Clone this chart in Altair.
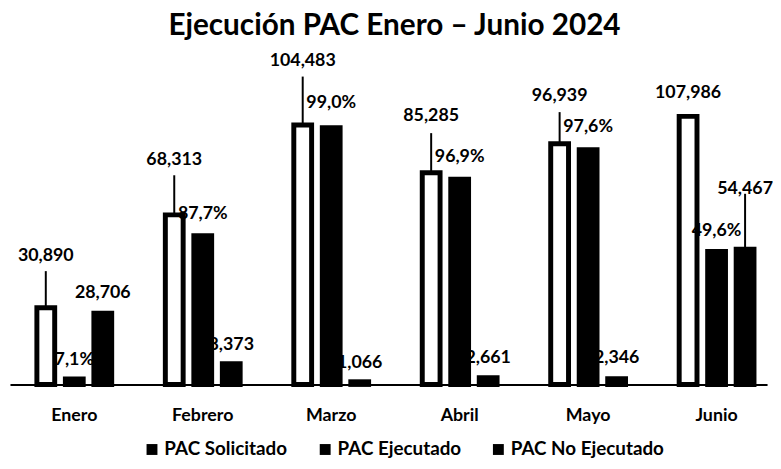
import altair as alt
import pandas as pd

# ---- data ----
meses = ["Enero", "Febrero", "Marzo", "Abril", "Mayo", "Junio"]
series = ["PAC Solicitado", "PAC Ejecutado", "PAC No Ejecutado"]
solicitado = [30890, 68313, 104483, 85285, 96939, 107986]
ejecutado = [2184, 59940, 103417, 82624, 94593, 53519]
no_ejecutado = [28706, 8373, 1066, 2661, 2346, 54467]
pct_ejecutado = [7.1, 87.7, 99.0, 96.9, 97.6, 49.6]

# ---- label layout (pixel gaps above each bar, leader-line lengths) ----
gap_sol = [52, 55, 65, 57, 48, 24]
gap_eje = [19, 22, 25, 23, 23, 21]
gap_noe = [20, 19, 19, 20, 21, 61]
guia_sol = [37, 40, 49, 40, 32, 0]
guia_eje = [0, 0, 0, 0, 0, 0]
guia_noe = [0, 0, 0, 0, 0, 56]

W, H = 765, 301
YMAX = 120000
PX = YMAX / H  # data units per pixel

lab_sol = [f"{v:,}" for v in solicitado]
lab_eje = [f"{p:.1f}%".replace(".", ",") for p in pct_ejecutado]
lab_noe = [f"{v:,}" for v in no_ejecutado]

rows = []
for i, m in enumerate(meses):
    for s, vals, labs, gaps, guias in [
        (series[0], solicitado, lab_sol, gap_sol, guia_sol),
        (series[1], ejecutado, lab_eje, gap_eje, guia_eje),
        (series[2], no_ejecutado, lab_noe, gap_noe, guia_noe),
    ]:
        rows.append(dict(mes=m, serie=s, valor=vals[i], etiqueta=labs[i],
                         gap=gaps[i], guia=guias[i]))
df = pd.DataFrame(rows)

FONT = "Lato"

x_enc = alt.X("mes:N", sort=meses, title=None,
              scale=alt.Scale(domain=meses, paddingInner=0.4176,
                              paddingOuter=0.1556, align=0.673),
              axis=alt.Axis(labelFont=FONT, labelFontSize=18, labelFontWeight="bold",
                            labelColor="black", ticks=False, labelPadding=22,
                            domainColor="black", domainWidth=2, labelAngle=0))
xo_enc = alt.XOffset("serie:N", sort=series,
                     scale=alt.Scale(domain=series, paddingInner=0.375, paddingOuter=0))
y_scale = alt.Scale(domain=[0, YMAX], nice=False)
y_enc = alt.Y("valor:Q", scale=y_scale, axis=None)

base = alt.Chart(df)

# outlined (white) bars for PAC Solicitado, solid black bars for the rest
bars_sol = base.transform_filter(alt.datum.serie == series[0]).mark_bar(
    fill="white", stroke="black", strokeWidth=5
).encode(x=x_enc, xOffset=xo_enc, y=y_enc)

bars_otros = base.transform_filter(alt.datum.serie != series[0]).mark_bar(
    fill="black", stroke="black", strokeWidth=5
).encode(x=x_enc, xOffset=xo_enc, y=y_enc)

# legend-only layer (no rows drawn): all legend swatches are solid black squares
leyenda = base.transform_filter("false").mark_square(filled=True, opacity=1).encode(
    color=alt.Color("serie:N", sort=series,
                    scale=alt.Scale(domain=series, range=["black", "black", "black"]),
                    legend=alt.Legend(orient="none", legendX=134, legendY=357,
                                      direction="horizontal", title=None,
                                      symbolType="square", symbolSize=121,
                                      symbolOpacity=1, symbolStrokeWidth=0,
                                      labelFont=FONT, labelFontSize=19,
                                      labelFontWeight="bold", labelColor="black",
                                      columnPadding=28, labelOffset=3)),
)

guias = base.transform_filter("datum.guia > 0").transform_calculate(
    tope=f"datum.valor + datum.guia * {PX}"
).mark_rule(color="black", strokeWidth=2).encode(
    x=x_enc, xOffset=xo_enc, y=y_enc, y2="tope:Q",
)

textos = base.transform_calculate(
    pos=f"datum.valor + datum.gap * {PX}"
).mark_text(font=FONT, fontSize=18, fontWeight="bold", baseline="middle",
            align="center", color="black").encode(
    x=x_enc, xOffset=xo_enc,
    y=alt.Y("pos:Q", scale=y_scale, axis=None),
    text="etiqueta:N",
)

chart = alt.layer(bars_sol, bars_otros, guias, textos, leyenda).properties(
    width=W, height=H,
    title=alt.TitleParams("Ejecución PAC Enero – Junio 2024", font=FONT, fontSize=30,
                          fontWeight="bold", color="black", anchor="middle",
                          frame="group", offset=11, dx=6),
    autosize=alt.AutoSizeParams(type="none"),
    padding={"left": 2, "top": 77, "right": 6, "bottom": 75},
    background="white",
).configure_view(strokeWidth=0)

chart.save("out.html", embed_options={"renderer": "svg", "actions": False})
